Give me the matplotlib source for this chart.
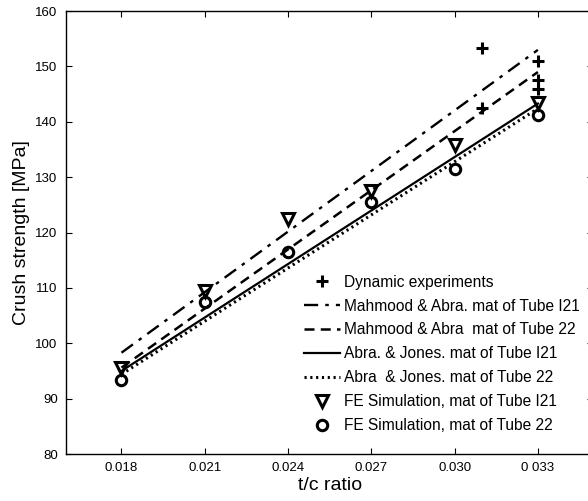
import matplotlib
matplotlib.use("Agg")
import matplotlib.pyplot as plt

plt.rcParams['font.family'] = ['Liberation Sans', 'DejaVu Sans']

# data
x_ends = [0.018, 0.033]
mahmood_i21 = [98.3, 153.0]
mahmood_22 = [95.6, 149.0]
abra_i21 = [95.0, 143.3]
abra_22 = [94.4, 142.4]

exp_x = [0.031, 0.031, 0.033, 0.033, 0.033]
exp_y = [153.3, 142.5, 151.0, 147.5, 146.0]

fe_x = [0.018, 0.021, 0.024, 0.027, 0.030, 0.033]
fe_i21 = [95.5, 109.4, 122.5, 127.5, 135.8, 143.4]
fe_22 = [93.3, 107.5, 116.5, 125.5, 131.4, 141.2]

xticks = [0.018, 0.021, 0.024, 0.027, 0.030, 0.033]
xticklabels = ['0.018', '0.021', '0.024', '0.027', '0.030', '0 033']
yticks = [80, 90, 100, 110, 120, 130, 140, 150, 160]

fig = plt.figure(figsize=(5.88, 5.01), dpi=100)
ax = fig.add_axes([0.1122, 0.0938, 0.897, 0.884])

ax.plot(exp_x, exp_y, '+', color='black', ms=8, mew=2.2, label='Dynamic experiments')
ax.plot(x_ends, mahmood_i21, color='black', lw=1.7, dashes=(6, 3, 1.5, 3),
        label='Mahmood & Abra. mat of Tube I21')
ax.plot(x_ends, mahmood_22, color='black', lw=1.8, dashes=(4, 2.5),
        label='Mahmood & Abra  mat of Tube 22')
ax.plot(x_ends, abra_i21, color='black', lw=1.6, label='Abra. & Jones. mat of Tube I21')
ax.plot(x_ends, abra_22, color='black', lw=2.2, dashes=(0.7, 1.2),
        label='Abra  & Jones. mat of Tube 22')
ax.plot(fe_x, fe_i21, 'v', color='black', mfc='none', ms=9, mew=2.2,
        label='FE Simulation, mat of Tube I21')
ax.plot(fe_x, fe_22, 'o', color='black', mfc='none', ms=7.5, mew=2.2,
        label='FE Simulation, mat of Tube 22')

ax.set_xlim(0.016, 0.035)
ax.set_ylim(80, 160)
ax.set_xticks(xticks)
ax.set_xticklabels(xticklabels)
ax.set_yticks(yticks)
ax.tick_params(direction='in', top=True, right=True, length=4, labelsize=9.5, pad=6)
for s in ax.spines.values():
    s.set_linewidth(1.0)

ax.set_xlabel('t/c ratio', fontsize=14, labelpad=2)
ax.set_ylabel('Crush strength [MPa]', fontsize=14, labelpad=4)

ax.legend(loc='upper left', bbox_to_anchor=(0.506, 0.464), bbox_transform=fig.transFigure,
          frameon=False, fontsize=11.2, handlelength=2.3, handletextpad=0.3,
          labelspacing=0.57, borderaxespad=0)

fig.savefig('out.png', dpi=100)
